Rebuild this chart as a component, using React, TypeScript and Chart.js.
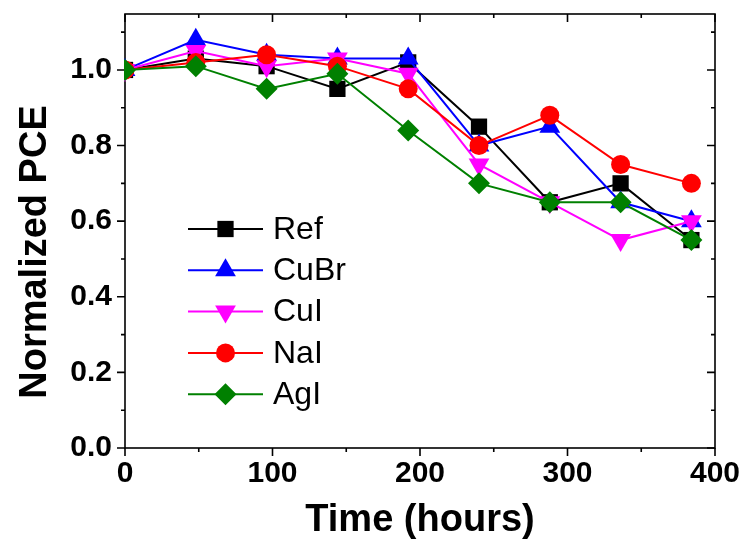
import React, { useEffect, useRef } from "react";
import { Chart, registerables } from "chart.js";

Chart.register(...registerables);

const hours = [0, 48, 96, 144, 192, 240, 288, 336, 384];
const refValues = [1.0, 1.03, 1.01, 0.95, 1.02, 0.85, 0.65, 0.7, 0.55];
const cuBrValues = [1.0, 1.08, 1.04, 1.03, 1.03, 0.8, 0.85, 0.65, 0.6];
const cuIValues = [1.0, 1.05, 1.01, 1.03, 0.99, 0.75, 0.65, 0.55, 0.6];
const naIValues = [1.0, 1.02, 1.04, 1.01, 0.95, 0.8, 0.88, 0.75, 0.7];
const agIValues = [1.0, 1.01, 0.95, 0.99, 0.84, 0.7, 0.65, 0.65, 0.55];

const seriesNames = ["Ref", "CuBr", "CuI", "NaI", "AgI"];
const xTickValues = [0, 100, 200, 300, 400];
const xMinorValues = [50, 150, 250, 350];
const yTickValues = [0, 0.2, 0.4, 0.6, 0.8, 1.0];
const yMinorValues = [0.1, 0.3, 0.5, 0.7, 0.9, 1.1];
const xTitle = "Time (hours)";
const yTitle = "Normalized PCE";

const FONT = "'Liberation Sans', Arial, sans-serif";

type Sty = { color: string; shape: string; radius: number; rotation: number };
const styles: Sty[] = [
  { color: "#000000", shape: "rect", radius: 11.5, rotation: 0 },
  { color: "#0000ff", shape: "triangle", radius: 12, rotation: 0 },
  { color: "#ff00ff", shape: "triangle", radius: 12, rotation: 180 },
  { color: "#ff0000", shape: "circle", radius: 9.5, rotation: 0 },
  { color: "#008000", shape: "rectRot", radius: 11, rotation: 0 },
];

function drawMarker(ctx: CanvasRenderingContext2D, s: Sty, x: number, y: number) {
  const r = s.radius;
  ctx.save();
  ctx.fillStyle = s.color;
  ctx.beginPath();
  if (s.shape === "rect") {
    const h = r * Math.SQRT1_2;
    ctx.rect(x - h, y - h, 2 * h, 2 * h);
  } else if (s.shape === "circle") {
    ctx.arc(x, y, r, 0, Math.PI * 2);
  } else if (s.shape === "rectRot") {
    ctx.moveTo(x, y - r);
    ctx.lineTo(x + r, y);
    ctx.lineTo(x, y + r);
    ctx.lineTo(x - r, y);
    ctx.closePath();
  } else {
    const rot = (s.rotation * Math.PI) / 180;
    for (let i = 0; i < 3; i++) {
      const a = rot + (i * 2 * Math.PI) / 3;
      const px = x + Math.sin(a) * r;
      const py = y - Math.cos(a) * r;
      if (i === 0) ctx.moveTo(px, py);
      else ctx.lineTo(px, py);
    }
    ctx.closePath();
  }
  ctx.fill();
  ctx.restore();
}

const framePlugin = {
  id: "frameTicks",
  beforeDatasetsDraw(chart: any) {
    const { ctx, chartArea, scales } = chart;
    const { left, right, top, bottom } = chartArea;
    ctx.save();
    ctx.strokeStyle = "#000";
    ctx.lineWidth = 1.6;
    ctx.strokeRect(left, top, right - left, bottom - top);
    ctx.beginPath();
    const major = 8;
    const minor = 4;
    xTickValues.forEach((v) => {
      const px = scales.x.getPixelForValue(v);
      ctx.moveTo(px, bottom);
      ctx.lineTo(px, bottom + major);
      ctx.moveTo(px, top);
      ctx.lineTo(px, top + major);
    });
    xMinorValues.forEach((v) => {
      const px = scales.x.getPixelForValue(v);
      ctx.moveTo(px, bottom);
      ctx.lineTo(px, bottom + minor);
      ctx.moveTo(px, top);
      ctx.lineTo(px, top + minor);
    });
    yTickValues.forEach((v) => {
      const py = scales.y.getPixelForValue(v);
      ctx.moveTo(left, py);
      ctx.lineTo(left - major, py);
      ctx.moveTo(right, py);
      ctx.lineTo(right - major, py);
    });
    yMinorValues.forEach((v) => {
      const py = scales.y.getPixelForValue(v);
      ctx.moveTo(left, py);
      ctx.lineTo(left - minor, py);
      ctx.moveTo(right, py);
      ctx.lineTo(right - minor, py);
    });
    ctx.stroke();
    ctx.restore();
  },
  afterDraw(chart: any) {
    const { ctx, chartArea } = chart;
    ctx.save();
    // axis titles
    ctx.fillStyle = "#000";
    ctx.font = `bold 38px ${FONT}`;
    ctx.textAlign = "center";
    ctx.textBaseline = "alphabetic";
    ctx.fillText(xTitle, (chartArea.left + chartArea.right) / 2, 531);
    ctx.save();
    ctx.translate(46, 252);
    ctx.rotate(-Math.PI / 2);
    ctx.fillText(yTitle, 0, 0);
    ctx.restore();

    // legend
    const x0 = 188;
    const x1 = 263;
    const y0 = 229;
    const gap = 41.3;
    seriesNames.forEach((name, i) => {
      const s = styles[i];
      const y = y0 + i * gap;
      ctx.strokeStyle = s.color;
      ctx.lineWidth = 2;
      ctx.beginPath();
      ctx.moveTo(x0, y);
      ctx.lineTo(x1, y);
      ctx.stroke();
      drawMarker(ctx, s, (x0 + x1) / 2, y);
      ctx.fillStyle = "#000";
      ctx.font = `32px ${FONT}`;
      ctx.textBaseline = "middle";
      ctx.textAlign = "left";
      ctx.fillText(name, 273, y + 1);
    });
    ctx.restore();
  },
};

const allValues = [refValues, cuBrValues, cuIValues, naIValues, agIValues];

function zeroPadding(scale: any) {
  scale.paddingTop = 0;
  scale.paddingBottom = 0;
  scale.paddingLeft = 0;
  scale.paddingRight = 0;
}

export default function App() {
  const canvasRef = useRef<HTMLCanvasElement | null>(null);

  useEffect(() => {
    document.body.style.margin = "0";
    const canvas = canvasRef.current;
    if (!canvas) return;
    const chart = new Chart(canvas, {
      type: "line",
      data: {
        datasets: seriesNames.map((name, i) => ({
          label: name,
          data: hours.map((h, j) => ({ x: h, y: allValues[i][j] })),
          borderColor: styles[i].color,
          backgroundColor: styles[i].color,
          borderWidth: 2,
          pointStyle: styles[i].shape as any,
          pointRotation: styles[i].rotation,
          pointRadius: styles[i].radius,
          pointBorderWidth: 0,
          pointHoverRadius: styles[i].radius,
          order: seriesNames.length - i,
          clip: 1,
          tension: 0,
        })),
      },
      options: {
        responsive: false,
        animation: false,
        events: [],
        layout: { padding: { top: 14, right: 27, left: 0, bottom: 0 } },
        plugins: { legend: { display: false }, tooltip: { enabled: false } },
        scales: {
          x: {
            type: "linear",
            min: 0,
            max: 400,
            afterBuildTicks: (scale: any) => {
              scale.ticks = xTickValues.map((v) => ({ value: v }));
            },
            afterFit: (scale: any) => {
              scale.height = 92;
              zeroPadding(scale);
            },
            grid: { display: false, drawTicks: false },
            border: { display: false },
            ticks: {
              color: "#000",
              padding: 8,
              maxRotation: 0,
              font: { family: FONT, size: 30, weight: "bold" },
              callback: (v: any) => String(v),
            },
          },
          y: {
            type: "linear",
            min: 0,
            max: 1.148,
            afterBuildTicks: (scale: any) => {
              scale.ticks = yTickValues.map((v) => ({ value: v }));
            },
            afterFit: (scale: any) => {
              scale.width = 125;
              zeroPadding(scale);
            },
            grid: { display: false, drawTicks: false },
            border: { display: false },
            ticks: {
              color: "#000",
              padding: 13,
              font: { family: FONT, size: 30, weight: "bold" },
              callback: (v: any) => Number(v).toFixed(1),
            },
          },
        },
      },
      plugins: [framePlugin],
    });
    return () => chart.destroy();
  }, []);

  return <canvas ref={canvasRef} width={742} height={540} style={{ display: "block", width: 742, height: 540 }} />;
}
